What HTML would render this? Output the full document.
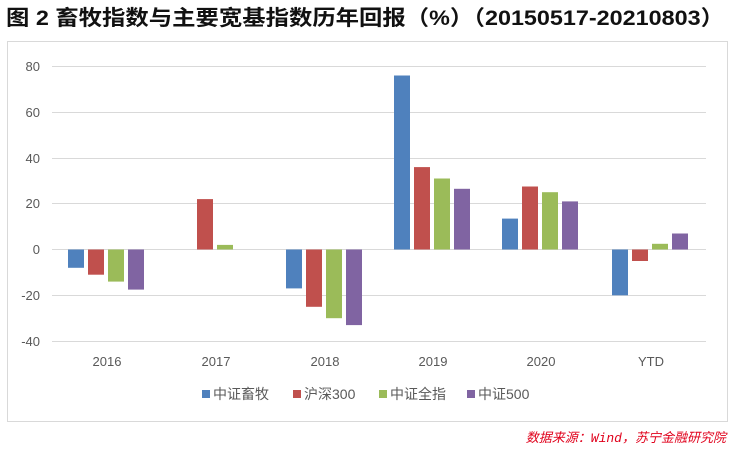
<!DOCTYPE html>
<html><head><meta charset="utf-8"><style>
body{margin:0;width:732px;height:447px;background:#fff;overflow:hidden}
</style></head><body>
<svg width="732" height="447" xmlns="http://www.w3.org/2000/svg" font-family="Liberation Sans, Noto Sans CJK SC, sans-serif">
<text x="6" y="25" font-size="21" font-weight="bold" fill="#111" font-family="Liberation Sans, Noto Sans CJK SC, sans-serif" textLength="718" lengthAdjust="spacingAndGlyphs">图 2 畜牧指数与主要宽基指数历年回报（%）（20150517-20210803）</text>
<rect x="7.5" y="41.5" width="720" height="380" fill="#fff" stroke="#d9d9d9"/>
<g stroke="#d9d9d9" stroke-width="1">
<line x1="52" x2="706" y1="66.5" y2="66.5"/><line x1="52" x2="706" y1="112.5" y2="112.5"/>
<line x1="52" x2="706" y1="158.5" y2="158.5"/><line x1="52" x2="706" y1="203.5" y2="203.5"/>
<line x1="52" x2="706" y1="249.5" y2="249.5"/><line x1="52" x2="706" y1="295.5" y2="295.5"/>
<line x1="52" x2="706" y1="341.5" y2="341.5"/>
</g>
<g font-size="13" fill="#595959" text-anchor="end">
<text x="40" y="71">80</text><text x="40" y="117">60</text><text x="40" y="163">40</text>
<text x="40" y="208">20</text><text x="40" y="254">0</text><text x="40" y="300">-20</text><text x="40" y="346">-40</text>
</g>
<g font-size="13" fill="#595959" text-anchor="middle">
<text x="107" y="366">2016</text><text x="216" y="366">2017</text><text x="325" y="366">2018</text>
<text x="433" y="366">2019</text><text x="541" y="366">2020</text><text x="651" y="366">YTD</text>
</g>
<g fill="#4f81bd">
<rect x="68" y="249.5" width="16" height="18.3"/>
<rect x="286" y="249.5" width="16" height="38.9"/>
<rect x="394" y="75.5" width="16" height="174"/>
<rect x="502" y="218.6" width="16" height="30.9"/>
<rect x="612" y="249.5" width="16" height="45.8"/>
</g>
<g fill="#c0504d">
<rect x="88" y="249.5" width="16" height="25.2"/>
<rect x="197" y="199.1" width="16" height="50.4"/>
<rect x="306" y="249.5" width="16" height="57.3"/>
<rect x="414" y="167.1" width="16" height="82.4"/>
<rect x="522" y="186.5" width="16" height="63"/>
<rect x="632" y="249.5" width="16" height="11.5"/>
</g>
<g fill="#9bbb59">
<rect x="108" y="249.5" width="16" height="32.1"/>
<rect x="217" y="244.9" width="16" height="4.6"/>
<rect x="326" y="249.5" width="16" height="68.7"/>
<rect x="434" y="178.5" width="16" height="71"/>
<rect x="542" y="192.2" width="16" height="57.3"/>
<rect x="652" y="243.8" width="16" height="5.7"/>
</g>
<g fill="#8064a2">
<rect x="128" y="249.5" width="16" height="40.1"/>
<rect x="346" y="249.5" width="16" height="75.6"/>
<rect x="454" y="188.8" width="16" height="60.7"/>
<rect x="562" y="201.4" width="16" height="48.1"/>
<rect x="672" y="233.5" width="16" height="16"/>
</g>
<g font-size="14" fill="#595959">
<rect x="202" y="390" width="8" height="8" fill="#4f81bd"/><text x="213" y="399">中证畜牧</text>
<rect x="293" y="390" width="8" height="8" fill="#c0504d"/><text x="304" y="399">沪深300</text>
<rect x="379" y="390" width="8" height="8" fill="#9bbb59"/><text x="390" y="399">中证全指</text>
<rect x="467" y="390" width="8" height="8" fill="#8064a2"/><text x="478" y="399">中证500</text>
</g>
<text x="726" y="442" font-size="13" font-style="italic" fill="#e0001b" text-anchor="end" font-family="Liberation Mono, Noto Sans CJK SC, monospace">数据来源：Wind，苏宁金融研究院</text>
</svg>
</body></html>
